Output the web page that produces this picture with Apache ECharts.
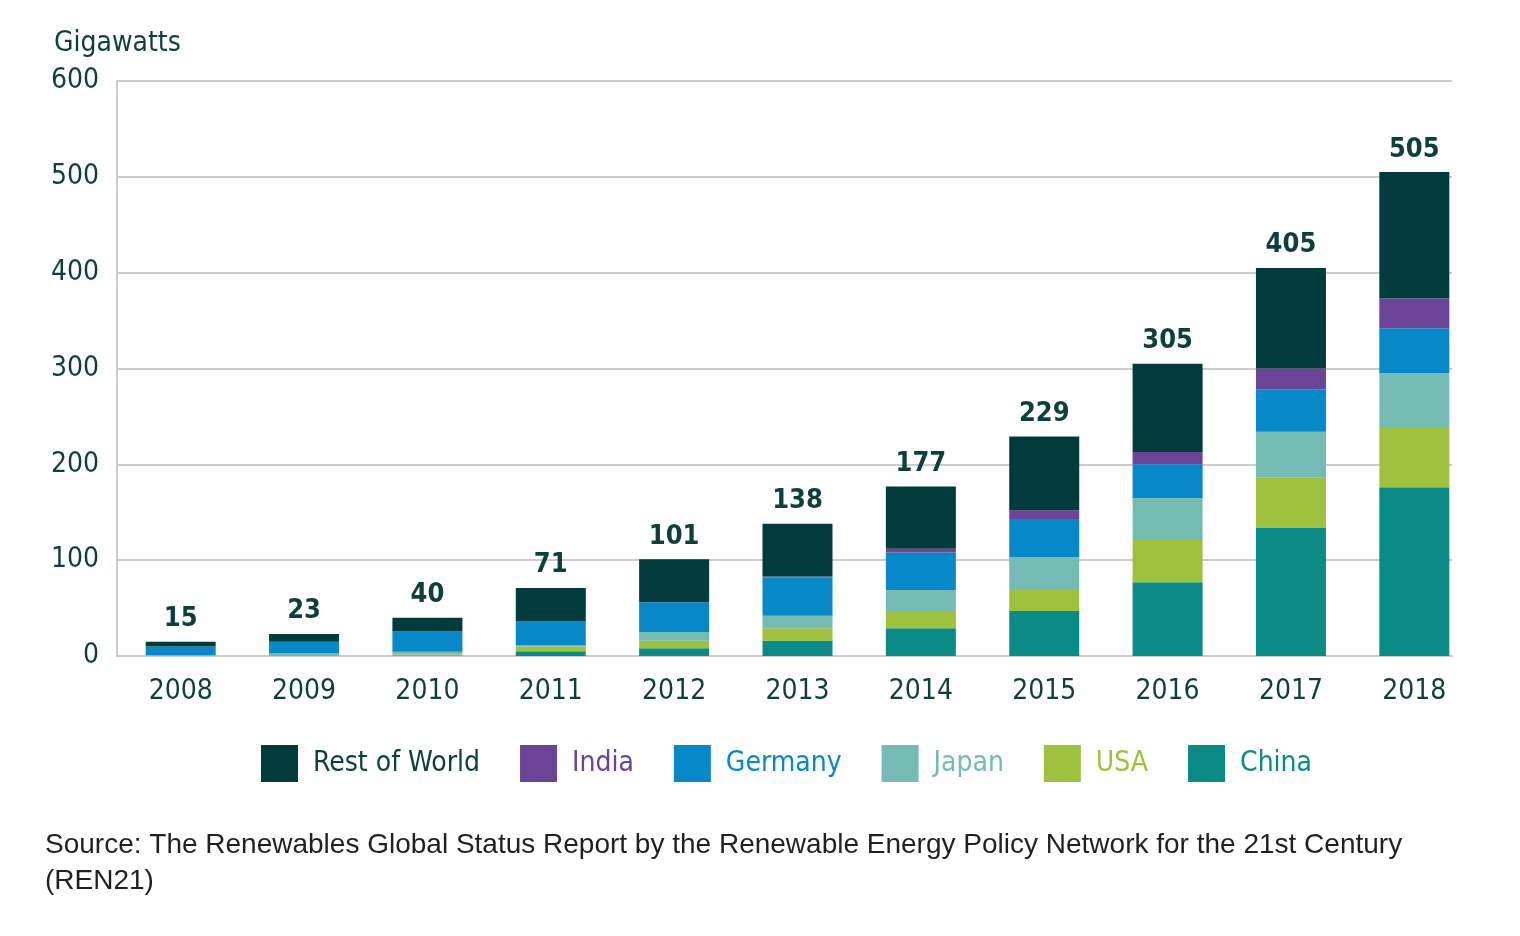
<!DOCTYPE html>
<html>
<head>
    <meta charset="utf-8">
    <title>Solar PV capacity</title>
    <script src="https://cdn.jsdelivr.net/npm/echarts@6/dist/echarts.min.js"></script>
    <style>
        html, body { margin: 0; padding: 0; background: #fff; }
    </style>
</head>
<body>
<div id="main" style="width: 1520px;height:936px;"></div>
<script type="text/javascript">
    // values (GW)
    var years = ['2008','2009','2010','2011','2012','2013','2014','2015','2016','2017','2018'];
    var china = [0, 0.5, 0.5, 5, 8, 16, 29, 47, 77, 134, 176];
    var usa = [0, 0.5, 1, 5, 8, 13, 18, 22, 44, 52, 62];
    var japan = [1, 2, 3, 1, 9, 13, 22, 34, 44, 48, 57];
    var germany = [9, 12, 21, 25, 31, 40, 39, 40, 35, 44, 47];
    var india = [0, 0, 0, 0, 0, 1, 4, 9, 13, 22, 31];
    var restOfWorld = [5, 8, 14.5, 35, 45, 55, 65, 77, 92, 105, 132];
    var totals = [15, 23, 40, 71, 101, 138, 177, 229, 305, 405, 505];
    var yTicks = [0, 100, 200, 300, 400, 500, 600];

    var txt = '#0d3f3d';
    var narrow = '"Liberation Sans Narrow", "DejaVu Sans Condensed", sans-serif';

    var myChart = echarts.init(document.getElementById('main'));

    var seriesDefs = [
        {name: 'China', data: china, color: '#0b8b86'},
        {name: 'USA', data: usa, color: '#9ec13e'},
        {name: 'Japan', data: japan, color: '#74bcb3'},
        {name: 'Germany', data: germany, color: '#0788c9'},
        {name: 'India', data: india, color: '#6b4497'},
        {name: 'Rest of World', data: restOfWorld, color: '#023b3b'}
    ];

    var series = seriesDefs.map(function (s) {
        var o = {
            name: s.name,
            type: 'bar',
            stack: 'total',
            xAxisIndex: 1,
            yAxisIndex: 1,
            barWidth: 70,
            itemStyle: {color: s.color},
            data: s.data
        };
        // totals go on top of the last stacked series
        if (s.name === 'Rest of World') {
            o.label = {
                show: true,
                position: 'top',
                distance: 9,
                color: txt,
                fontFamily: narrow,
                fontWeight: 'bold',
                fontSize: 27,
                formatter: function (p) { return totals[p.dataIndex]; }
            };
        }
        return o;
    });

    var legendOrder = ['Rest of World', 'India', 'Germany', 'Japan', 'USA', 'China'];
    var legendData = legendOrder.map(function (n) {
        var c = seriesDefs.filter(function (s) { return s.name === n; })[0].color;
        return {name: n, textStyle: {color: n === 'Rest of World' ? txt : c}};
    });

    var option = {
        animation: false,
        title: [
            {
                text: 'Gigawatts',
                left: 49, top: 25,
                textStyle: {color: txt, fontFamily: narrow, fontWeight: 'normal', fontSize: 28}
            },
            {
                text: 'Source: The Renewables Global Status Report by the Renewable Energy Policy Network for the 21st Century\n(REN21)',
                left: 40, top: 822,
                textStyle: {color: '#231f20', fontFamily: '"Liberation Sans", Arial, sans-serif', fontWeight: 'normal', fontSize: 28, lineHeight: 36}
            }
        ],
        legend: {
            data: legendData,
            left: 256, top: 740,
            itemWidth: 37, itemHeight: 37,
            itemGap: 40,
            icon: 'rect',
            textStyle: {fontFamily: narrow, fontSize: 28, padding: [0, 0, 0, 10]}
        },
        grid: [
            {left: 117, right: 68, top: 81, bottom: 280},
            {left: 119, right: 44, top: 81, bottom: 280}
        ],
        xAxis: [
            {
                gridIndex: 0, type: 'category', data: years,
                axisLine: {show: true, lineStyle: {color: '#cccccc', width: 2}},
                axisTick: {show: false}, axisLabel: {show: false}
            },
            {
                gridIndex: 1, type: 'category', data: years,
                axisLine: {show: false}, axisTick: {show: false},
                axisLabel: {color: txt, fontFamily: narrow, fontSize: 28, margin: 22}
            }
        ],
        yAxis: [
            {
                gridIndex: 0, type: 'value', min: yTicks[0], max: yTicks[yTicks.length - 1], interval: 100,
                axisLine: {show: true, lineStyle: {color: '#cccccc', width: 2}},
                axisTick: {show: false},
                axisLabel: {color: txt, fontFamily: narrow, fontSize: 28, margin: 18},
                splitLine: {show: true, lineStyle: {color: '#cccccc', width: 2}}
            },
            {
                gridIndex: 1, type: 'value', min: yTicks[0], max: yTicks[yTicks.length - 1], interval: 100,
                show: false, splitLine: {show: false}
            }
        ],
        series: series
    };

    myChart.setOption(option);
</script>
</body>
</html>
